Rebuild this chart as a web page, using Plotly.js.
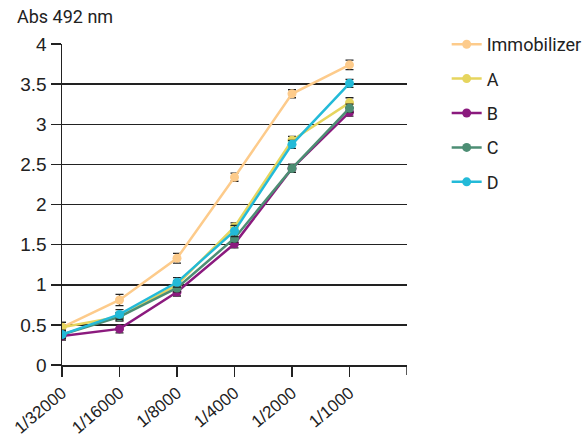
<!DOCTYPE html>
<html><head><meta charset="utf-8">
<script src="https://cdn.plot.ly/plotly-3.0.1.min.js"></script>
<style>body{margin:0;padding:0;background:#fff}#chart{width:584px;height:438px}</style>
</head><body><div id="chart"></div>
<script>
const categories = ["1/32000","1/16000","1/8000","1/4000","1/2000","1/1000"];
const seriesNames = ["Immobilizer","A","B","C","D"];
const immobilizer = [0.47, 0.81, 1.33, 2.34, 3.38, 3.74];
const seriesA     = [0.47, 0.60, 1.00, 1.72, 2.80, 3.27];
const seriesB     = [0.36, 0.45, 0.91, 1.51, 2.45, 3.15];
const seriesC     = [0.38, 0.60, 0.96, 1.58, 2.45, 3.20];
const seriesD     = [0.38, 0.63, 1.03, 1.67, 2.75, 3.51];
const errImmobilizer = [0.06, 0.07, 0.06, 0.05, 0.05, 0.06];
const errA = [0.06, 0.05, 0.05, 0.05, 0.05, 0.06];
const errB = [0.05, 0.05, 0.05, 0.05, 0.05, 0.05];
const errC = [0.05, 0.05, 0.05, 0.05, 0.05, 0.05];
const errD = [0.05, 0.06, 0.06, 0.07, 0.05, 0.05];
const yTicks = [0,0.5,1,1.5,2,2.5,3,3.5,4];
const yTickText = ["0","0.5","1","1.5","2","2.5","3","3.5","4"];
const colors = ["#FDCB8B","#E6D55E","#8B1A7E","#4D8E74","#23BAD8"];

const values = [immobilizer, seriesA, seriesB, seriesC, seriesD];
const errs = [errImmobilizer, errA, errB, errC, errD];
const xIdx = categories.map((c,i)=>i);

const traces = values.map((v,k)=>({
  type:"scatter", mode:"lines+markers", name:seriesNames[k], legendgroup:"g"+k,
  x:xIdx, y:v,
  line:{color:colors[k], width:2.5},
  marker:{color:colors[k], size:9},
  error_y:{type:"data", array:errs[k], visible:true, color:"#222", thickness:1.3, width:4}
}));

const layout = {
  width:584, height:438,
  margin:{l:62, r:177, t:44, b:73, autoexpand:false},
  paper_bgcolor:"#fff", plot_bgcolor:"#fff",
  title:{text:"Abs 492 nm", xref:"container", yref:"container", x:17/584, xanchor:"left",
    y:1-17/438, yanchor:"middle", font:{family:"Roboto, Arial", size:18, color:"#222"}},
  showlegend:true,
  legend:{x:1.115, xanchor:"left", y:1.056, yanchor:"top",
    font:{family:"Roboto, Arial", size:18, color:"#222"},
    tracegroupgap:8, bgcolor:"rgba(0,0,0,0)"},
  xaxis:{range:[0,6], tickvals:xIdx, ticktext:categories, tickangle:-40, automargin:false,
    showgrid:false, zeroline:false, showline:true, linecolor:"#222", linewidth:1.5,
    ticks:"outside", ticklen:10, tickcolor:"#222", tickwidth:1.5,
    tickfont:{family:"Liberation Sans, Arial", size:17, color:"#222"}, fixedrange:true},
  yaxis:{range:[0,4], tickvals:yTicks, ticktext:yTickText, automargin:false,
    showgrid:true, gridcolor:"#222", gridwidth:1.5, zeroline:false,
    showline:true, linecolor:"#222", linewidth:1.5,
    ticks:"outside", ticklen:10, tickcolor:"#222", tickwidth:1.5,
    tickfont:{family:"Liberation Sans, Arial", size:19, color:"#222"}, fixedrange:true},
  shapes:[{type:"line", xref:"x", yref:"paper", x0:6, x1:6, y0:0, y1:-0.031, line:{color:"#222", width:1.5}}]
};
Plotly.newPlot("chart", traces, layout, {displayModeBar:false, staticPlot:true});
</script></body></html>
